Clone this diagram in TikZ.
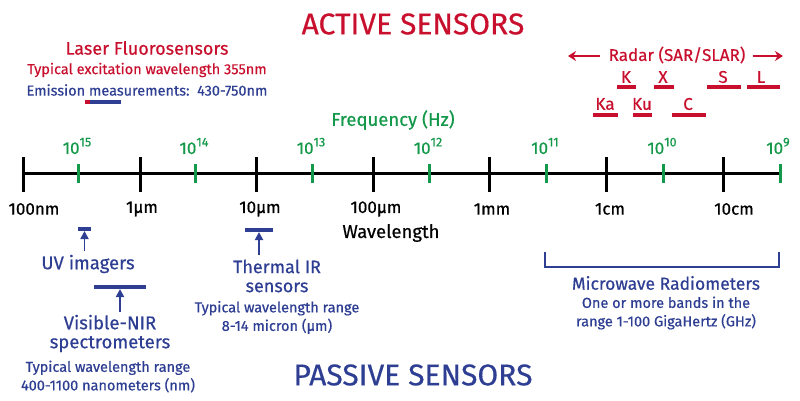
\documentclass[tikz,border=0pt]{standalone}
\usepackage{fontspec}
\setmainfont{Fira Sans}[FakeBold=0.5]
\usepackage{xcolor}
\usepackage{tikz}
\usetikzlibrary{positioning,arrows.meta}
\definecolor{act}{HTML}{C8102E}
\definecolor{pas}{HTML}{2E3E92}
\definecolor{frq}{HTML}{14994A}
\newcommand\sz[2]{\fontsize{#1}{#2}\selectfont}
\newcommand\tenp[1]{10\raisebox{0.45em}{\sz{12.5}{13}#1}}

\begin{document}
\begin{tikzpicture}[x=1pt,y=-1pt,
    lbl/.style={inner sep=0pt,align=center},
    big/.style={lbl,font=\sz{30}{32}},
    head/.style={lbl,font=\sz{18}{19}},
    small/.style={lbl,font=\sz{14.5}{18.5}},
    wl/.style={lbl,font=\sz{17}{18},text=black},
    fq/.style={lbl,font=\sz{17}{18},text=frq},
    band/.style={lbl,font=\sz{17}{19},text=act},
    bandbar/.style={draw=act,line width=4pt},
    sensbar/.style={draw=pas,line width=4pt},
    up/.style={draw=pas,line width=1.8pt,-{Triangle[width=8pt,length=8pt]}},
    side/.style={draw=act,line width=2.4pt,-{Stealth[width=10pt,length=8pt]}}]
  \useasboundingbox (0,0) rectangle (800,400);

  \path
    (413,24) node[big,text=act] (act) {ACTIVE SENSORS}
    (413,375) node[big,text=pas] (pas) {PASSIVE SENSORS}
    ;

  % active: laser
  \path
    (147,48) node[head,text=act] (laser) {Laser Fluorosensors}
    (147,70) node[small,text=act] (exc) {Typical excitation wavelength 355nm}
    (147,90) node[small,text=pas] (emi) {Emission measurements:\ \ 430-750nm}
    ;
  \draw[act,line width=4pt] (85,102) -- (90,102);
  \draw[pas,line width=4pt] (90,102) -- (121,102);

  % active: radar
  \path
    (677,55) node[band] (radar) {Radar (SAR/SLAR)}
    (568,56) coordinate (rleft)
    (783,56) coordinate (rright)
    ;
  \draw[side] (radar.west) ++(-8,1) -- (rleft);
  \draw[side] (radar.east) ++(7,1) -- (rright);

  \path
    (626,77) node[band] (k) {K}
    (663,77) node[band] (x) {X}
    (723,77) node[band] (s) {S}
    (761,77) node[band] (l) {L}
    (605,104) node[band] (ka) {Ka}
    (642,104) node[band] (ku) {Ku}
    (688,104) node[band] (c) {C}
    ;
  \draw[bandbar] (617,87) -- (636,87) (654,87) -- (674,87)
    (707,87) -- (741,87) (747,87) -- (780,87)
    (593,115) -- (618,115) (633,115) -- (652,115) (672,115) -- (706,115);

  % axis
  \path (393,120) node[lbl,font=\sz{18.5}{19},text=frq] (freq) {Frequency (Hz)};
  \draw[line width=3pt] (23,173) -- (780,173);
  \draw[line width=3pt]
    (23,157) -- (23,192) (140,157) -- (140,192) (256,157) -- (256,192)
    (373,157) -- (373,192) (489,157) -- (489,192) (606,157) -- (606,192)
    (723,157) -- (723,192);
  \draw[frq,line width=3pt]
    (78,164) -- (78,183) (195,164) -- (195,183) (312,164) -- (312,183)
    (429,164) -- (429,183) (546,164) -- (546,183) (663,164) -- (663,183)
    (780,164) -- (780,183);

  \path
    (77,146) node[fq] (f15) {\tenp{15}}
    (194,146) node[fq] (f14) {\tenp{14}}
    (311,146) node[fq] (f13) {\tenp{13}}
    (428,146) node[fq] (f12) {\tenp{12}}
    (545,146) node[fq] (f11) {\tenp{11}}
    (662,146) node[fq] (f10) {\tenp{10}}
    (778,146) node[fq] (f9) {\tenp{9}}
    ;
  \path
    (34,209) node[wl] (w1) {100nm}
    (142,209) node[wl] (w2) {1µm}
    (260,209) node[wl] (w3) {10µm}
    (376,209) node[wl] (w4) {100µm}
    (492,209) node[wl] (w5) {1mm}
    (610,209) node[wl] (w6) {1cm}
    (734,209) node[wl] (w7) {10cm}
    (391,233) node[wl,font=\sz{18.5}{19}] (wave) {Wavelength}
    ;

  % passive
  \path
    (84.5,229) coordinate (uvbar)
    (84.5,251) coordinate (uvfoot)
    (88,264) node[head,text=pas,font=\sz{18.5}{19}] (uv) {UV imagers}
    (120,287) coordinate (visbar)
    (120,312) coordinate (visfoot)
    (110,333.5) node[head,text=pas,font=\sz{18.5}{19}] (vis) {Visible-NIR\\spectrometers}
    (108,376.5) node[small,text=pas] (visr) {Typical wavelength range\\400-1100 nanometers (nm)}
    (259,230) coordinate (irbar)
    (259,255) coordinate (irfoot)
    (277,276) node[head,text=pas] (ir) {Thermal IR\\sensors}
    (277,317.5) node[small,text=pas] (irr) {Typical wavelength range\\8-14 micron (µm)}
    (666,283) node[head,text=pas,font=\sz{17.5}{19}] (mw) {Microwave Radiometers}
    (666,313) node[small,text=pas] (mwr) {One or more bands in the\\range 1-100 GigaHertz (GHz)}
    ;
  \draw[sensbar] (uvbar) ++(-6.5,0) -- ++(13,0);
  \draw[sensbar] (visbar) ++(-26,0) -- ++(52,0);
  \draw[sensbar] (irbar) ++(-14,0) -- ++(28,0);
  \draw[up] (uvfoot) -- ([yshift=-2pt]uvbar);
  \draw[up] (visfoot) -- ([yshift=-2pt]visbar);
  \draw[up] (irfoot) -- ([yshift=-2pt]irbar);
  \draw[pas,line width=2.5pt] (545,252) |- (779,267) -- (779,252);
\end{tikzpicture}
\end{document}
